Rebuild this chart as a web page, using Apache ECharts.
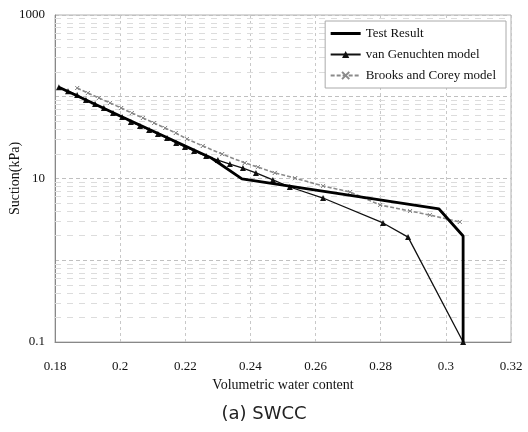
<!DOCTYPE html>
<html>
<head>
<meta charset="utf-8">
<script src="https://cdn.jsdelivr.net/npm/echarts@6/dist/echarts.min.js"></script>
<style>
html,body{margin:0;padding:0;background:#fff;}
#chart{width:528px;height:432px;}
</style>
</head>
<body>
<div id="chart"></div>
<script>
// Data: [volumetric water content, suction kPa]
var testResult = [
  [0.1812, 131], [0.2000, 58], [0.2200, 25], [0.2280, 17.8],
  [0.2374, 9.9], [0.2979, 4.24], [0.3053, 1.98], [0.3053, 0.1]
];
var vanGenuchten = [
  [0.1812, 131], [0.1840, 117], [0.1868, 105], [0.1895, 91], [0.1923, 81.5],
  [0.1950, 72.8], [0.1978, 63.2], [0.2006, 56.5], [0.2033, 49.1], [0.2061, 43.9],
  [0.2089, 39.2], [0.2116, 35], [0.2144, 31.3], [0.2172, 27.2], [0.2199, 24.3],
  [0.2227, 21.7], [0.2264, 18.8], [0.2300, 16.8], [0.2337, 15], [0.2377, 13.4],
  [0.2417, 11.7], [0.2469, 9.6], [0.2521, 7.87], [0.2623, 5.77], [0.2807, 2.86],
  [0.2884, 1.92], [0.3053, 0.1]
];
var brooksCorey = [
  [0.1868, 128], [0.1901, 111], [0.1935, 96.6], [0.1969, 84], [0.2003, 72.8],
  [0.2036, 63.2], [0.2070, 55], [0.2104, 47.7], [0.2138, 41.5], [0.2171, 36],
  [0.2205, 30.4], [0.2254, 25], [0.2313, 19.9], [0.2383, 15.5], [0.2423, 13.8],
  [0.2475, 11.7], [0.2537, 10.1], [0.2623, 8.1], [0.2706, 6.84], [0.2798, 4.74],
  [0.2890, 4.0], [0.2951, 3.57], [0.3043, 2.94]
];
var seriesNames = ['Test Result', 'van Genuchten model', 'Brooks and Corey model'];
var xTicks = { min: 0.18, max: 0.32, step: 0.02 };
var yLabels = [0.1, 10, 1000];
var minorGridValues = [];
[0.1, 1, 10, 100].forEach(function (d) {
  for (var k = 2; k <= 9; k++) minorGridValues.push(+(d * k).toPrecision(3));
});

var serif = 'Liberation Serif';
var chart = echarts.init(document.getElementById('chart'), null, { renderer: 'canvas' });
var xPath = 'path://M0,0L10,10M10,0L0,10Z';

chart.setOption({
  animation: false,
  backgroundColor: '#fff',
  grid: {
    left: 55, right: 17, top: 15, bottom: 90, containLabel: false, outerBoundsMode: 'none',
    show: true, borderColor: '#b0b0b0', borderWidth: 1
  },
  title: {
    text: '(a) SWCC', left: 'center', top: 400,
    textStyle: { fontFamily: 'DejaVu Sans', fontWeight: 'normal', fontSize: 18, color: '#222' }
  },
  legend: {
    orient: 'vertical', right: 22, top: 21, z: 20,
    itemWidth: 30, itemHeight: 9, itemGap: 8,
    padding: [6, 10, 6, 4],
    borderColor: '#aaa', borderWidth: 1,
    backgroundColor: '#fff',
    textStyle: { fontFamily: serif, fontSize: 13, color: '#111' },
    data: [
      {
        name: seriesNames[0],
        itemStyle: { opacity: 0, color: '#000', borderWidth: 0 },
        lineStyle: { width: 3, color: '#000', type: 'solid', opacity: 1 }
      },
      seriesNames[1],
      seriesNames[2]
    ]
  },
  xAxis: {
    type: 'value', min: xTicks.min, max: xTicks.max, interval: xTicks.step,
    name: 'Volumetric water content', nameLocation: 'middle', nameGap: 32,
    nameTextStyle: { fontFamily: serif, fontSize: 14, color: '#111' },
    axisLine: { show: true, lineStyle: { color: '#888' } },
    axisTick: { show: false },
    axisLabel: {
      fontFamily: serif, fontSize: 13, color: '#111', margin: 18,
      formatter: function (v) { return String(parseFloat(v.toFixed(2))); }
    },
    splitLine: { show: true, lineStyle: { color: '#c8c8c8', type: [3, 3], width: 1 } }
  },
  yAxis: {
    type: 'log', logBase: 10, min: 0.1, max: 1000, splitNumber: 4,
    name: 'Suction(kPa)', nameLocation: 'middle', nameGap: 33, nameMoveOverlap: false,
    nameTextStyle: { fontFamily: serif, fontSize: 14, color: '#111' },
    axisLine: { show: true, lineStyle: { color: '#888' } },
    axisTick: { show: false },
    axisLabel: {
      fontFamily: serif, fontSize: 13, color: '#111', margin: 10,
      formatter: function (v) {
        for (var i = 0; i < yLabels.length; i++) {
          if (Math.abs(Math.log10(v) - Math.log10(yLabels[i])) < 1e-6) return String(yLabels[i]);
        }
        return '';
      }
    },
    splitLine: { show: true, lineStyle: { color: '#c0c0c0', type: [4, 3], width: 1 } }
  },
  series: [
    {
      name: 'grid', type: 'line', data: [], silent: true, z: 1,
      markLine: {
        silent: true, symbol: 'none', animation: false, z: 1,
        label: { show: false },
        lineStyle: { color: '#dcdcdc', type: [6, 6], width: 1 },
        data: minorGridValues.map(function (v) { return { yAxis: v }; })
      }
    },
    {
      name: seriesNames[2], type: 'line', data: brooksCorey, z: 3,
      symbol: xPath, symbolSize: 4, showSymbol: true,
      lineStyle: { color: '#8a8a8a', width: 1.6, type: [4, 2] },
      itemStyle: { color: '#8a8a8a', borderColor: '#8a8a8a', borderWidth: 1 }
    },
    {
      name: seriesNames[1], type: 'line', data: vanGenuchten, z: 4,
      symbol: 'triangle', symbolSize: 6, showSymbol: true,
      lineStyle: { color: '#111', width: 1.3 },
      itemStyle: { color: '#111' }
    },
    {
      name: seriesNames[0], type: 'line', data: testResult, z: 5,
      symbol: 'none', showSymbol: false,
      lineStyle: { color: '#000', width: 2.8 },
      itemStyle: { color: '#000' }
    }
  ]
});
</script>
</body>
</html>
